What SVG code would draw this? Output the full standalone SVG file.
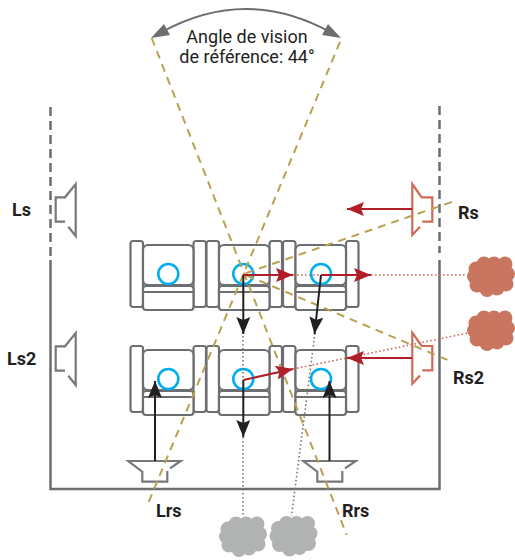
<svg xmlns="http://www.w3.org/2000/svg" width="515" height="560" viewBox="0 0 515 560">
<style>
.wall{fill:none;stroke:#6d6e71;stroke-width:2.5}
.dash{stroke-dasharray:9 5}
.gold{fill:none;stroke:#b9a14f;stroke-width:2;stroke-dasharray:8 6}
.seat{fill:#fff;stroke:#6d6e71;stroke-width:2.2}
.eye{fill:none;stroke:#00aeef;stroke-width:2.6}
.spk{fill:none;stroke:#77787b;stroke-width:2.2}
.spkr{fill:none;stroke:#cf6a58;stroke-width:2.2}
.blk{fill:none;stroke:#231f20;stroke-width:2}
.red{fill:none;stroke:#b01e28;stroke-width:2}
.dotg{fill:none;stroke:#77787b;stroke-width:1.6;stroke-dasharray:1.6 2.4}
.dotr{fill:none;stroke:#cf6a58;stroke-width:1.6;stroke-dasharray:1.6 2.4}
.lab{font-family:Roboto,"Liberation Sans",sans-serif;font-weight:700;font-size:18px;fill:#231f20}
.cap{font-family:Roboto,"Liberation Sans",sans-serif;font-size:18px;fill:#231f20;text-anchor:middle}
</style>
<defs>
<marker id="mb" markerUnits="userSpaceOnUse" markerWidth="18" markerHeight="16" refX="17" refY="8" orient="auto"><path d="M0 1L17 8L0 15L3 8Z" fill="#231f20"/></marker>
<marker id="mr" markerUnits="userSpaceOnUse" markerWidth="18" markerHeight="16" refX="17" refY="8" orient="auto"><path d="M0 1L17 8L0 15L3 8Z" fill="#b01e28"/></marker>
<g id="seat">
<rect class="seat" x="0.5" y="0" width="12.500" height="66" rx="2.500"/>
<rect class="seat" x="63.500" y="0" width="12.500" height="66" rx="2.500"/>
<rect class="seat" x="13" y="4" width="50.500" height="40" rx="5"/>
<rect class="seat" x="13" y="45" width="50.500" height="24" rx="3"/>
<path class="seat" d="M13 51H63.500"/>
</g>
<g id="cloud">
<circle cx="9" cy="13" r="7.500"/><circle cx="17" cy="8" r="7.500"/><circle cx="27" cy="8" r="7.500"/><circle cx="38" cy="8" r="7.500"/>
<circle cx="40.500" cy="18" r="7.500"/><circle cx="39" cy="28" r="7.500"/><circle cx="30" cy="32" r="7.500"/><circle cx="20" cy="33.500" r="7.500"/>
<circle cx="10" cy="29" r="7.500"/><circle cx="7.500" cy="20.500" r="7.500"/><circle cx="24" cy="20" r="15"/>
</g>
<path id="spkL" d="M68.300 226.700L75.700 236V184L65 197.300H55.700V221.700H65"/>
<path id="spkR" d="M420 226.700L412.300 235V184L421.700 197.300H432.300V221.700H422.300"/>
<path id="spkB" d="M170 468.300L180.700 461H128.300L142.300 471.700V481.700H167.300V471"/>
</defs>

<g id="walls">
<path class="wall dash" d="M50.500 107V256"/>
<path class="wall" d="M50.500 260V489H439.500V260"/>
<path class="wall dash" d="M439.500 106V253"/>
</g>

<g id="seat-1-1"><use href="#seat" x="130" y="241"/><circle class="eye" cx="168.300" cy="274" r="10"/></g>
<g id="seat-1-2"><use href="#seat" x="206" y="241"/><circle class="eye" cx="243.300" cy="274" r="10"/></g>
<g id="seat-1-3"><use href="#seat" x="282.500" y="241"/><circle class="eye" cx="321" cy="274" r="10"/></g>
<g id="seat-2-1"><use href="#seat" x="130" y="346"/><circle class="eye" cx="168.300" cy="379" r="10"/></g>
<g id="seat-2-2"><use href="#seat" x="206" y="346"/><circle class="eye" cx="243.300" cy="379" r="10"/></g>
<g id="seat-2-3"><use href="#seat" x="282.500" y="346"/><circle class="eye" cx="321" cy="379" r="10"/></g>

<g id="speaker-Ls"><use href="#spkL" class="spk"/><text class="lab" x="12" y="216">Ls</text></g>
<g id="speaker-Ls2"><use href="#spkL" class="spk" y="149"/><text class="lab" x="7" y="365">Ls2</text></g>
<g id="speaker-Rs"><use href="#spkR" class="spkr"/><text class="lab" x="458" y="219">Rs</text></g>
<g id="speaker-Rs2"><use href="#spkR" class="spkr" y="148.700"/><text class="lab" x="453" y="384">Rs2</text></g>
<g id="speaker-Lrs"><use href="#spkB" class="spk"/><text class="lab" x="156" y="517">Lrs</text></g>
<g id="speaker-Rrs"><use href="#spkB" class="spk" x="175"/><text class="lab" x="342" y="517">Rrs</text></g>

<g id="cloud-r1" fill="#c97560"><use href="#cloud" x="467" y="256"/></g>
<g id="cloud-r2" fill="#c97560"><use href="#cloud" x="467" y="310"/></g>
<g id="cloud-g1" fill="#b1b3b3"><use href="#cloud" x="219" y="516"/></g>
<g id="cloud-g2" fill="#b1b3b3"><use href="#cloud" x="269.500" y="515.500"/></g>

<g id="connectors">
<path class="gold" d="M151.700 38L346.700 535"/>
<path class="gold" d="M340 42L146.700 506.700"/>
<path class="gold" d="M451.700 202L243.300 274L451.700 361.700"/>
<path class="dotr" d="M293 275H321M371 275H467"/>
<path class="dotr" d="M293 369L468 333"/>
<path class="dotg" d="M243 332V379M243 437V517"/>
<path class="dotg" d="M315 333L291.500 516"/>
<path class="blk" marker-end="url(#mb)" d="M243.300 275V334"/>
<path class="blk" marker-end="url(#mb)" d="M321 275L314.500 334"/>
<path class="blk" marker-end="url(#mb)" d="M243.300 380V437"/>
<path class="blk" marker-end="url(#mb)" d="M155 461V381"/>
<path class="blk" marker-end="url(#mb)" d="M329.500 461V381"/>
<path class="red" marker-end="url(#mr)" d="M243.300 275H293"/>
<path class="red" marker-end="url(#mr)" d="M321 275H371"/>
<path class="red" marker-end="url(#mr)" d="M243.300 380L293 369"/>
<path class="red" marker-end="url(#mr)" d="M412 209H347"/>
<path class="red" marker-end="url(#mr)" d="M412 358H347"/>
<path d="M160 33Q246 -15 332 33" fill="none" stroke="#6d6e71" stroke-width="2"/>
<path d="M151 38L164 24L170 35Z M341 38L328 24L322 35Z" fill="#6d6e71"/>
</g>

<g id="caption">
<text class="cap" x="247" y="43">Angle de vision</text>
<text class="cap" x="247" y="63">de référence: 44°</text>
</g>
</svg>
